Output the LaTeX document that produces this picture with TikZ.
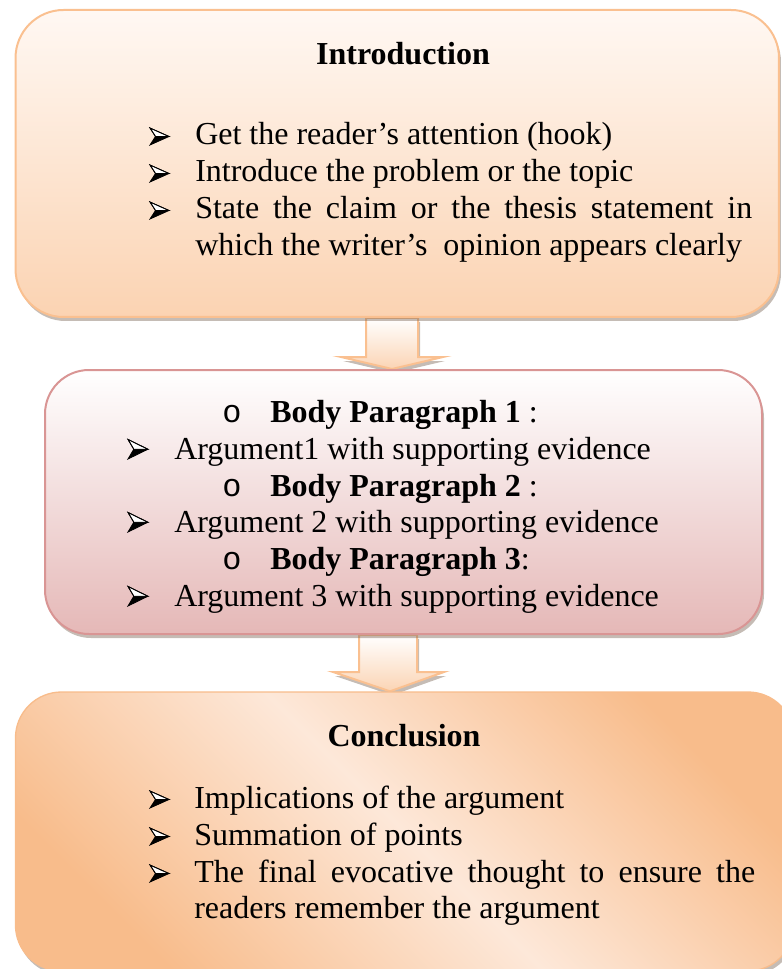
\documentclass[tikz,border=0pt]{standalone}
\usepackage{fontspec}
\setmainfont{Liberation Serif}
\newfontfamily\bulletmono{Liberation Mono}
\usetikzlibrary{shadows,backgrounds,calc}

\definecolor{introTop}{HTML}{FFF8F3}
\definecolor{introBot}{HTML}{FBD3B2}
\definecolor{peachLine}{HTML}{FAC090}
\definecolor{bodyBot}{HTML}{E5B8B7}
\definecolor{bodyLine}{HTML}{D99594}
\definecolor{conclDark}{HTML}{F8BC8B}
\definecolor{conclLight}{HTML}{FDE8D9}
\definecolor{arrowBot}{HTML}{FBD4B4}
\definecolor{shadowTone}{HTML}{7F6A5A}

\begin{document}
\begin{tikzpicture}[x=0.75pt, y=-0.75pt,
  boxshadow/.style={drop shadow={shadow xshift=1.5pt, shadow yshift=-3pt,
      fill=shadowTone, opacity=0.45}},
  panel/.style={rectangle, inner sep=0pt, boxshadow},
  introbox/.style={panel, draw=peachLine, line width=1.5pt,
      top color=introTop, bottom color=introBot, rounded corners=36pt,
      minimum width=572.6pt, minimum height=230.25pt},
  bodybox/.style={panel, draw=bodyLine, line width=1.5pt,
      top color=white, bottom color=bodyBot, rounded corners=33pt,
      minimum width=537.75pt, minimum height=198pt},
  conclbox/.style={panel, draw=conclDark, line width=1pt,
      left color=conclDark, right color=conclDark, middle color=conclLight,
      shading angle=135, rounded corners=34.5pt,
      minimum width=583.9pt, minimum height=209.25pt},
  flowarrow/.style={draw=peachLine, line width=1.5pt, line join=miter,
      top color=white, bottom color=arrowBot, boxshadow},
  txt/.style={anchor=base west, inner sep=0pt, font=\fontsize{24}{28}\selectfont},
  ttl/.style={anchor=base, inner sep=0pt, font=\fontsize{24}{28}\selectfont\bfseries},
  obul/.style={anchor=base west, inner sep=0pt, font=\fontsize{24}{28}\selectfont\bulletmono},
  pics/arrowmark/.style={code={
    \fill[black] (0,0) -- (19,-8.5) -- (5.5,-8.5) -- cycle;
    \filldraw[fill=white, draw=black, line width=0.6pt, line join=miter]
      (0,-17) -- (19,-8.5) -- (5.5,-8.5) -- cycle;
    \draw[line width=0.6pt, line join=miter]
      (0,-17) -- (19,-8.5) -- (0,0) -- (5.5,-8.5) -- cycle;
  }}
]
\useasboundingbox (0,0) rectangle (781,969);

% the three panels
\node[introbox] (intro) at (397.25,163.5) {};
\node[bodybox]  (body)  at (403.5,502) {};
\node[conclbox] (concl) at (404.75,831.5) {};

% block arrows between the panels, kept behind them
\begin{pgfonlayer}{background}
\path[flowarrow] (366,0 |- intro.south) -- (366,357) -- (341,357)
  -- (392,0 |- body.north) -- (443,357) -- (418,357)
  -- (418,0 |- intro.south) -- cycle;
\path[flowarrow] (359,0 |- body.south) -- (359,672) -- (333,672)
  -- (390,0 |- concl.north) -- (444,672) -- (417,672)
  -- (417,0 |- body.south) -- cycle;
\end{pgfonlayer}

% Introduction
\node[ttl] (introTitle) at (403,65) {Introduction};
\pic at (150,145) {arrowmark};
\pic at (150,182) {arrowmark};
\pic at (150,219) {arrowmark};
\node[txt] (i1) at (195,145) {Get the reader’s attention (hook)};
\node[txt] (i2) at (195,182) {Introduce the problem or the topic};
\node[txt] (i3) at (195,219) {\makebox[417.75pt][s]{State the claim or the thesis statement in}};
\node[txt] (i4) at (195,256) {which the writer’s\ \ opinion appears clearly};

% Body paragraphs
\node[obul] (o1) at (222,422) {o};
\node[obul] (o2) at (222,496) {o};
\node[obul] (o3) at (222,569) {o};
\node[txt] (b1) at (270,422) {\textbf{Body Paragraph 1} :};
\node[txt] (b2) at (270,496) {\textbf{Body Paragraph 2} :};
\node[txt] (b3) at (270,569) {\textbf{Body Paragraph 3}:};
\pic[yscale=1.15, xscale=1.05] at (128,459) {arrowmark};
\pic[yscale=1.15, xscale=1.05] at (128,532) {arrowmark};
\pic[yscale=1.15, xscale=1.05] at (128,606) {arrowmark};
\node[txt] (a1) at (174,459) {Argument1 with supporting evidence};
\node[txt] (a2) at (174,532) {Argument 2 with supporting evidence};
\node[txt] (a3) at (174,606) {Argument 3 with supporting evidence};

% Conclusion
\node[ttl] (conclTitle) at (404,746) {Conclusion};
\pic at (150,808) {arrowmark};
\pic at (150,845) {arrowmark};
\pic at (150,882) {arrowmark};
\node[txt] (c1) at (194,808) {Implications of the argument};
\node[txt] (c2) at (194,845) {Summation of points};
\node[txt] (c3) at (194,882) {\makebox[420.75pt][s]{The final evocative thought to ensure the}};
\node[txt] (c4) at (194,918) {readers remember the argument};
\end{tikzpicture}
\end{document}
